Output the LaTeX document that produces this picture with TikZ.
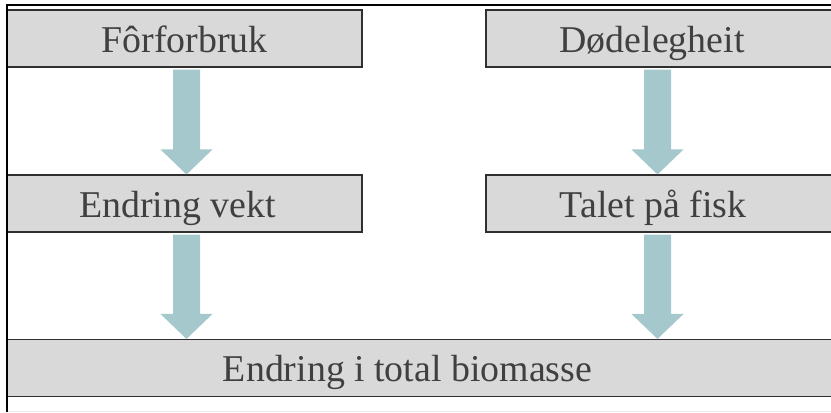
\documentclass[tikz,border=0pt]{standalone}
\usepackage{fontspec}
\setmainfont{Liberation Serif}
\usetikzlibrary{calc}
\definecolor{boxfill}{HTML}{D9D9D9}
\definecolor{boxline}{HTML}{303030}
\definecolor{txt}{HTML}{404040}
\definecolor{arrfill}{HTML}{A5C8CD}
\definecolor{faint}{HTML}{EBEBEB}
\tikzset{
  box/.style={draw=boxline, line width=1.1bp, fill=boxfill, inner sep=0pt,
    text=txt, font=\fontsize{38}{42}\selectfont,
    text height=31bp, text depth=4bp, minimum height=57bp},
  fatarrow/.style={fill=arrfill, draw=none}
}
% text shifted left by #1 (bp)
\newcommand\lsh[1]{\hspace*{-#1bp}\hspace*{-#1bp}}
% #1 source node, #2 target node, #3 x shift
\newcommand\fatarr[3]{%
  \coordinate (fa-s) at ($(#1.south)+(#3,0)$);
  \coordinate (fa-t) at (fa-s |- #2.north);
  \fill[fatarrow] ($(fa-s)+(-13.5,2)$) -- ($(fa-s)+(13.5,2)$)
    -- ($(fa-t)+(13.5,-25)$) -- ($(fa-t)+(26,-25)$) -- (fa-t)
    -- ($(fa-t)+(-26,-25)$) -- ($(fa-t)+(-13.5,-25)$) -- cycle;}
\begin{document}
\begin{tikzpicture}[x=1bp,y=-1bp]
\useasboundingbox (0,0) rectangle (831,412);
\fill[white] (0,0) rectangle (831,412);
% boxes
\node[box, minimum width=355bp] (b1) at (184.5,38.5) {Fôrforbruk};
\node[box, minimum width=346bp] (b2) at (659,38.5) {\lsh{7}Dødelegheit};
\node[box, minimum width=355bp] (b3) at (184.5,203.5) {\lsh{7}Endring vekt};
\node[box, minimum width=346bp] (b4) at (659,203.5) {\lsh{6}Talet på fisk};
\node[box, minimum width=825bp] (b5) at (419.5,368) {\lsh{12}Endring i total biomasse};
% arrows
\fatarr{b1}{b3}{2}
\fatarr{b2}{b4}{-1.5}
\fatarr{b3}{b5}{2}
\fatarr{b4}{b5}{-1.5}
% frame
\draw[black, line width=1.5bp] (7,412) -- (7,5) -- (831,5);
\draw[faint, line width=1bp] (8,411) -- (831,411);
\end{tikzpicture}
\end{document}
